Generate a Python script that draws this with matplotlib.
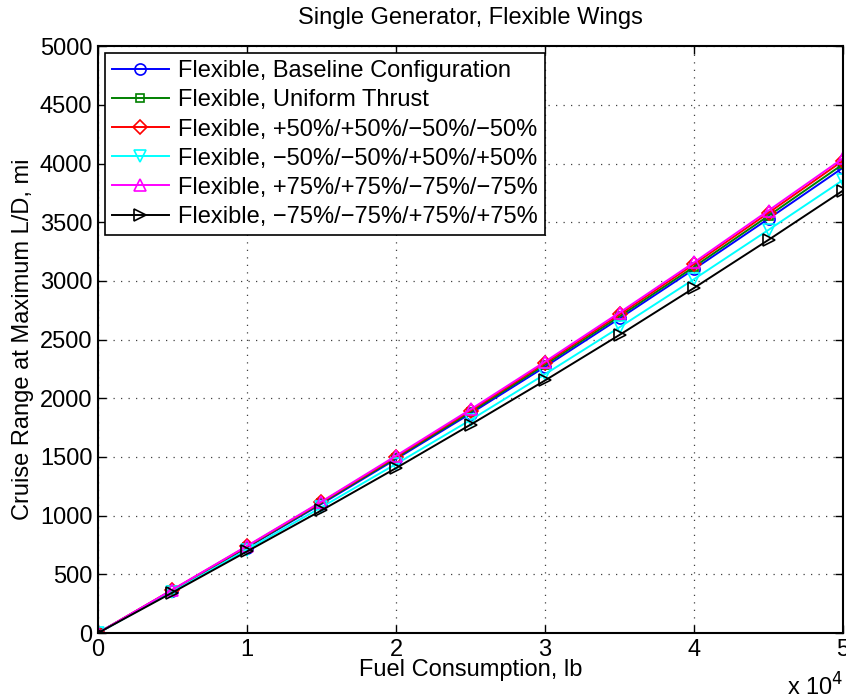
import numpy as np
import matplotlib as mpl
mpl.use('Agg')
import matplotlib.pyplot as plt

#
#--- data
#
fuel = [0, 5000, 10000, 15000, 20000, 25000, 30000, 35000, 40000, 45000, 50000]

baseline = [0, 362, 728, 1100, 1482, 1870, 2268, 2680, 3100, 3530, 3965]
uniform  = [0, 365, 733, 1108, 1492, 1883, 2285, 2698, 3120, 3555, 3995]
p50      = [0, 368, 738, 1115, 1502, 1895, 2300, 2715, 3142, 3580, 4025]
m50      = [0, 352, 710, 1072, 1440, 1815, 2205, 2605, 3015, 3435, 3860]
p75      = [0, 370, 742, 1120, 1510, 1905, 2312, 2730, 3158, 3600, 4045]
m75      = [0, 345, 695, 1045, 1405, 1775, 2152, 2540, 2940, 3350, 3770]

labels = ['Flexible, Baseline Configuration',
          'Flexible, Uniform Thrust',
          'Flexible, +50%/+50%/\u221250%/\u221250%',
          'Flexible, \u221250%/\u221250%/+50%/+50%',
          'Flexible, +75%/+75%/\u221275%/\u221275%',
          'Flexible, \u221275%/\u221275%/+75%/+75%']

series  = [baseline, uniform, p50, m50, p75, m75]
colors  = ['blue', 'green', 'red', 'cyan', 'magenta', 'black']
markers = ['o', 's', 'D', 'v', '^', '>']
msizes  = [8, 6, 7, 9, 9, 9]

plt.rcParams['font.family'] = ['Liberation Sans', 'DejaVu Sans']
fs = 17

fig = plt.figure(figsize=(8.46, 7.0), dpi=100)
ax = fig.add_axes([0.1158, 0.0957, 0.8807, 0.8383])

x = np.array(fuel) / 1e4
for i in range(len(series)):
    ax.plot(x, series[i], color=colors[i], marker=markers[i], ms=msizes[i],
            mfc='none', mec=colors[i], mew=1.2, lw=1.4, label=labels[i])

ax.set_xlim(0, 5)
ax.set_ylim(0, 5000)
ax.set_xticks([0, 1, 2, 3, 4, 5])
ax.set_yticks(np.arange(0, 5001, 500))
ax.grid(True, linestyle=(0, (1, 5)), color='#404040', lw=0.9)
ax.tick_params(direction='in', length=6, width=1, top=True, right=True,
               labelsize=fs, pad=4)
for s in ax.spines.values():
    s.set_linewidth(1.5)

ax.set_xlabel('Fuel Consumption, lb', fontsize=fs, labelpad=-1)
ax.set_ylabel('Cruise Range at Maximum L/D, mi', fontsize=fs, labelpad=4)
ax.set_title('Single Generator, Flexible Wings', fontsize=fs, pad=16)
ax.text(1.0, -0.068, r'x 10$^{4}$', transform=ax.transAxes, ha='right', va='top',
        fontsize=fs)

leg = ax.legend(loc='upper left', fancybox=False, framealpha=1, edgecolor='black',
                fontsize=fs, handlelength=2.4, borderaxespad=0.3, labelspacing=0.3,
                borderpad=0.3, handletextpad=0.4)
leg.get_frame().set_linewidth(1.2)

plt.savefig('out.png', dpi=100)
